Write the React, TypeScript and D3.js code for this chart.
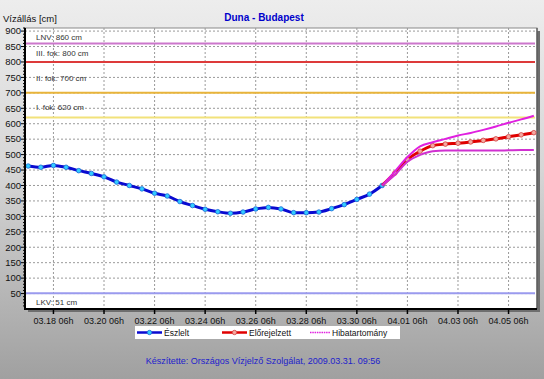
import React from "react";
import * as d3 from "d3";

// ---- data ----
const observedStart = Date.UTC(2009, 2, 17, 6); // 03.17 06h, 12-hourly readings
const observed = [463, 459, 465, 459, 448, 439, 428, 411, 400, 389, 375, 366, 348, 335, 323, 315, 310, 314, 324, 329, 324, 312, 312, 314, 325, 338, 355, 372, 400];
const forecastStart = Date.UTC(2009, 2, 31, 6); // 03.31 06h, 12-hourly forecast
const forecast = [400, 440, 484, 511, 529, 534, 537, 541, 546, 551, 558, 564, 571];
const bandUpper = [400, 445, 492, 527, 540, 551, 562, 570, 580, 591, 603, 614, 626];
const bandLower = [400, 434, 477, 499, 511, 513, 513, 513, 513, 513, 514, 515, 515];

const refLabels = ["LNV: 860 cm", "III. fok: 800 cm", "II. fok: 700 cm", "I. fok: 620 cm", "LKV: 51 cm"];
const refValues = [860, 800, 700, 620, 51];

const tickDates = ["2009-03-18T06:00Z", "2009-03-20T06:00Z", "2009-03-22T06:00Z", "2009-03-24T06:00Z", "2009-03-26T06:00Z", "2009-03-28T06:00Z", "2009-03-30T06:00Z", "2009-04-01T06:00Z", "2009-04-03T06:00Z", "2009-04-05T06:00Z"];
const tickLabels = ["03.18 06h", "03.20 06h", "03.22 06h", "03.24 06h", "03.26 06h", "03.28 06h", "03.30 06h", "04.01 06h", "04.03 06h", "04.05 06h"];
const yTickValues = [50, 100, 150, 200, 250, 300, 350, 400, 450, 500, 550, 600, 650, 700, 750, 800, 850, 900];

const legendLabels = ["Észlelt", "Előrejelzett", "Hibatartomány"];

// ---- styles / layout ----
const W = 544, H = 379;
const PL = 25, PR = 537, PT = 28, PB = 309;
const refColors = ["#cc77cc", "#dd3a3a", "#e8b43a", "#f2e27a", "#9a9aee"];
const refDy = [-3, -6, -12, -8, 12];
const FONT = "Arial, 'Liberation Sans', sans-serif";

export default function App() {
  const x = d3.scaleUtc()
    .domain([new Date(Date.UTC(2009, 2, 17, 3)), new Date(Date.UTC(2009, 3, 6, 9))])
    .range([PL, PR]);
  const y = d3.scaleLinear().domain([0, 910]).range([PB, PT]);

  const obsPts = observed.map((v, i) => ({ t: d3.utcHour.offset(new Date(observedStart), i * 12), v }));
  const fcPts = forecast.map((v, i) => ({ t: d3.utcHour.offset(new Date(forecastStart), i * 12), v }));
  const upPts = bandUpper.map((v, i) => ({ t: d3.utcHour.offset(new Date(forecastStart), i * 12), v }));
  const loPts = bandLower.map((v, i) => ({ t: d3.utcHour.offset(new Date(forecastStart), i * 12), v }));

  const line = d3.line<{ t: Date; v: number }>()
    .x((d) => x(d.t))
    .y((d) => y(d.v))
    .curve(d3.curveMonotoneX);

  const majors = tickDates.map((s) => new Date(s));
  const minors = d3.utcHour.every(12)!.range(x.domain()[0], x.domain()[1])
    .filter((d) => d.getUTCHours() === 6 || d.getUTCHours() === 18);
  const yMinor = d3.range(10, 911, 10);

  return (
    <svg width={W} height={H} style={{ position: "absolute", left: 0, top: 0, fontFamily: FONT }}>
      <defs>
        <linearGradient id="bg" x1="0" y1="0" x2="0" y2="1">
          <stop offset="0" stopColor="#ededed" />
          <stop offset="0.45" stopColor="#d6d6d6" />
          <stop offset="1" stopColor="#a0a0a0" />
        </linearGradient>
      </defs>
      <rect x={0} y={0} width={W} height={H} fill="url(#bg)" />

      {/* plot shadow + area */}
      <rect x={PL + 3} y={PT + 3} width={PR - PL} height={PB - PT} fill="#6e6e6e" />
      <rect x={PL} y={PT} width={PR - PL} height={PB - PT} fill="#ffffff" stroke="#8a8a8a" strokeWidth={1} />
      <line x1={PR} x2={PR} y1={PT} y2={PB} stroke="#505050" strokeWidth={1.2} />

      {/* grid */}
      {yTickValues.map((v) => (
        <line key={"gy" + v} x1={PL} x2={PR} y1={y(v)} y2={y(v)} stroke="#9a9a9a" strokeWidth={1} strokeDasharray="2,2" />
      ))}
      {majors.map((d, i) => (
        <line key={"gx" + i} x1={x(d)} x2={x(d)} y1={PT} y2={PB} stroke="#9a9a9a" strokeWidth={1} strokeDasharray="2,2" />
      ))}

      {/* reference lines */}
      {refValues.map((v, i) => (
        <g key={"ref" + i}>
          <line x1={PL} x2={PR - 2} y1={y(v)} y2={y(v)} stroke={refColors[i]} strokeWidth={2} />
          <text x={36} y={y(v) + refDy[i]} fontSize={8} fill="#333">{refLabels[i]}</text>
        </g>
      ))}

      {/* series */}
      <path d={line(obsPts) || ""} fill="none" stroke="#0a0ad0" strokeWidth={3} />
      {obsPts.map((p, i) => (
        <circle key={"o" + i} cx={x(p.t)} cy={y(p.v)} r={2.3} fill="#33ccff" stroke="#1a6ad8" strokeWidth={0.8} />
      ))}
      <path d={line(fcPts) || ""} fill="none" stroke="#e00000" strokeWidth={3} />
      {fcPts.slice(1).map((p, i) => (
        <circle key={"f" + i} cx={x(p.t)} cy={y(p.v)} r={2.3} fill="#f4a8a0" stroke="#d04040" strokeWidth={0.8} />
      ))}
      <path d={line(upPts) || ""} fill="none" stroke="#e020e0" strokeWidth={2} />
      <path d={line(loPts) || ""} fill="none" stroke="#d030d0" strokeWidth={2} />

      {/* axes */}
      <line x1={PL} x2={PL} y1={PT} y2={PB + 1} stroke="#000" strokeWidth={2} />
      <line x1={PL - 1} x2={PR} y1={PB} y2={PB} stroke="#000" strokeWidth={2} />
      {yMinor.map((v) => (
        <line key={"ym" + v} x1={PL - (v % 50 === 0 ? 4 : 2)} x2={PL} y1={y(v)} y2={y(v)} stroke="#000" strokeWidth={1} />
      ))}
      {yTickValues.map((v) => (
        <text key={"yl" + v} x={21} y={y(v)} dy="0.35em" textAnchor="end" fontSize={9.5} fill="#111">{v}</text>
      ))}
      {minors.map((d, i) => (
        <line key={"xm" + i} x1={x(d)} x2={x(d)} y1={PB} y2={PB + 3} stroke="#000" strokeWidth={1} />
      ))}
      {majors.map((d, i) => (
        <g key={"xl" + i}>
          <line x1={x(d)} x2={x(d)} y1={PB} y2={PB + 5} stroke="#000" strokeWidth={1.5} />
          <text x={x(d)} y={324} textAnchor="middle" fontSize={9} fill="#111">{tickLabels[i]}</text>
        </g>
      ))}

      {/* titles */}
      <text x={3} y={22} fontSize={9.5} fill="#111">Vízállás [cm]</text>
      <text x={264} y={21} textAnchor="middle" fontSize={10} fontWeight="bold" fill="#0000cc">Duna - Budapest</text>

      {/* legend */}
      <rect x={135} y={326} width={265} height={13} fill="#ffffff" />
      <line x1={137} x2={162} y1={332.5} y2={332.5} stroke="#0a0ad0" strokeWidth={2.5} />
      <circle cx={149.5} cy={332.5} r={2.2} fill="#33ccff" stroke="#1a6ad8" strokeWidth={0.8} />
      <text x={164} y={335.5} fontSize={8.5} fill="#111">{legendLabels[0]}</text>
      <line x1={222} x2={247} y1={332.5} y2={332.5} stroke="#e00000" strokeWidth={2.5} />
      <circle cx={234.5} cy={332.5} r={2.2} fill="#f4a8a0" stroke="#d04040" strokeWidth={0.8} />
      <text x={249} y={335.5} fontSize={8.5} fill="#111">{legendLabels[1]}</text>
      <line x1={310} x2={330} y1={332.5} y2={332.5} stroke="#e020e0" strokeWidth={1.5} strokeDasharray="1.5,0.8" />
      <text x={332} y={335.5} fontSize={8.5} fill="#111">{legendLabels[2]}</text>

      {/* footer */}
      <text x={263} y={364} textAnchor="middle" fontSize={9} fill="#2222cc">Készítette: Országos Vízjelző Szolgálat, 2009.03.31. 09:56</text>
    </svg>
  );
}
